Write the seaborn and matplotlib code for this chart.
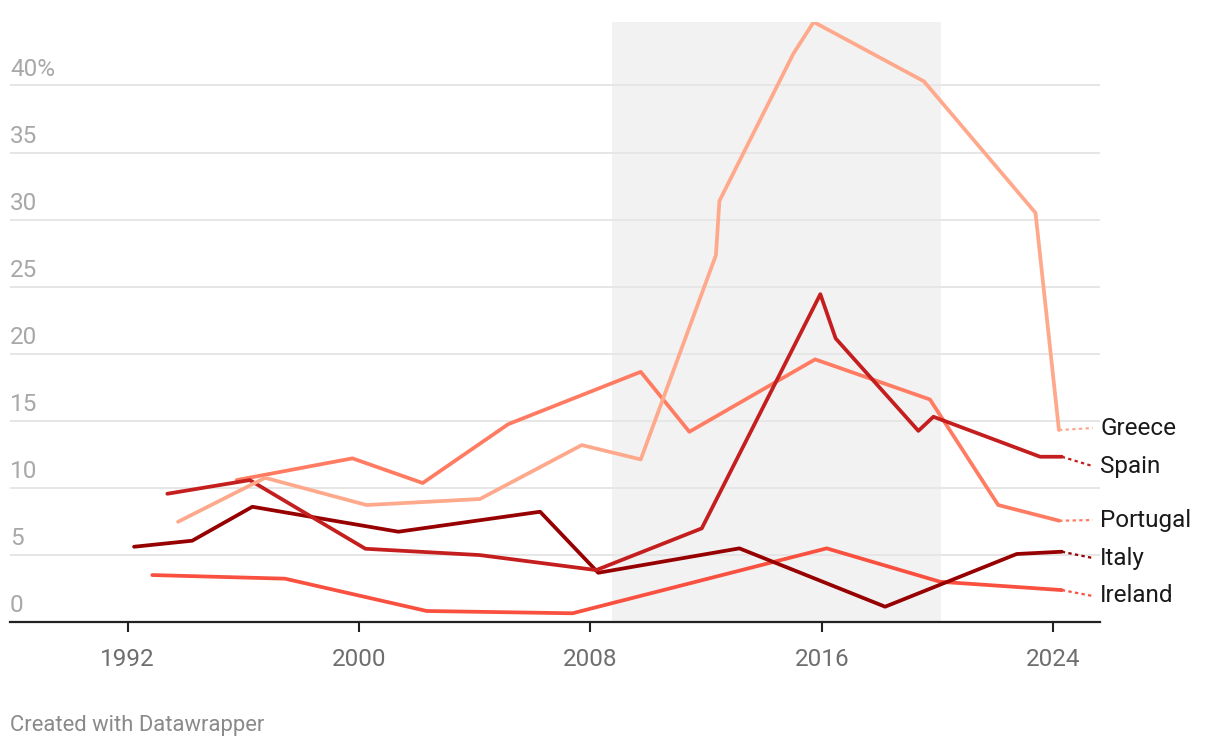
import matplotlib
matplotlib.use("Agg")
import matplotlib.pyplot as plt
import matplotlib.transforms as mtransforms
import numpy as np
import pandas as pd
import seaborn as sns

# ---------------- data ----------------
countries = ["Greece", "Spain", "Portugal", "Italy", "Ireland"]

greece_years = [1993.74, 1996.75, 2000.26, 2004.18, 2007.70, 2009.74, 2012.34, 2012.46,
                2015.02, 2015.72, 2019.53, 2023.39, 2023.47, 2024.20]
greece_vals = [7.47, 10.75, 8.72, 9.17, 13.19, 12.12, 27.35, 31.39,
               42.38, 44.73, 40.31, 30.50, 28.90, 14.31]

spain_years = [1993.37, 1996.22, 2000.22, 2004.17, 2008.20, 2011.85, 2015.95, 2016.48,
               2019.34, 2019.86, 2023.55, 2024.30]
spain_vals = [9.56, 10.58, 5.46, 4.99, 3.87, 6.98, 24.44, 21.14,
              14.25, 15.30, 12.32, 12.32]

portugal_years = [1995.77, 1999.77, 2002.20, 2005.16, 2009.74, 2011.42, 2015.77,
                  2019.74, 2022.10, 2024.21]
portugal_vals = [10.58, 12.20, 10.36, 14.75, 18.65, 14.18, 19.58, 16.59, 8.72, 7.55]

italy_years = [1992.22, 1994.23, 1996.31, 2001.36, 2006.26, 2008.27, 2013.15,
               2018.19, 2022.74, 2024.30]
italy_vals = [5.61, 6.06, 8.59, 6.73, 8.22, 3.67, 5.49, 1.14, 5.07, 5.24]

ireland_years = [1992.85, 1997.44, 2002.34, 2007.38, 2016.17, 2020.09, 2024.30]
ireland_vals = [3.50, 3.23, 0.82, 0.65, 5.49, 3.00, 2.38]

# label positions (value level of each end label)
label_levels = [14.46, 11.62, 7.60, 4.77, 1.94]

x_ticks = [1992, 2000, 2008, 2016, 2024]
y_ticks = [0, 5, 10, 15, 20, 25, 30, 35, 40]
y_tick_labels = ["0", "5", "10", "15", "20", "25", "30", "35", "40%"]

shade_start, shade_end = 2008.75, 2020.13

colors = {
    "Greece": "#ffa98c",
    "Spain": "#c41e1e",
    "Portugal": "#ff7c62",
    "Italy": "#960000",
    "Ireland": "#fa5040",
}

series = {
    "Greece": (greece_years, greece_vals),
    "Spain": (spain_years, spain_vals),
    "Portugal": (portugal_years, portugal_vals),
    "Italy": (italy_years, italy_vals),
    "Ireland": (ireland_years, ireland_vals),
}

frames = []
for c in countries:
    yrs, vals = series[c]
    frames.append(pd.DataFrame({"year": yrs, "value": vals, "country": c}))
df = pd.concat(frames, ignore_index=True)

# ---------------- style ----------------
sns.set_theme(style="white")
plt.rcParams["font.family"] = ["Roboto", "DejaVu Sans"]

W, H, DPI = 1220, 748, 100
fig = plt.figure(figsize=(W / DPI, H / DPI), dpi=DPI)
ax = fig.add_axes([10 / W, 1 - 622 / H, 1090 / W, 600 / H])

ax.axvspan(shade_start, shade_end, color="#f2f2f2", zorder=0.1, lw=0)

sns.lineplot(data=df, x="year", y="value", hue="country", palette=colors,
             hue_order=countries[::-1], sort=False, estimator=None,
             linewidth=2.7, legend=False, ax=ax, zorder=3)

ax.set_xlim(1987.93, 2025.62)
ax.set_ylim(0, 44.73)

# grid
ax.set_yticks(y_ticks[1:])
ax.yaxis.grid(True, color="#e6e6e6", linewidth=1.4)
ax.set_axisbelow(True)
ax.tick_params(axis="y", left=False, labelleft=False)

# y labels drawn inside the plot above the gridlines
offset = mtransforms.ScaledTranslation(0, 9.5 / DPI, fig.dpi_scale_trans)
ytrans = ax.get_yaxis_transform() + offset
for v, lab in zip(y_ticks, y_tick_labels):
    ax.text(0, v, lab, transform=ytrans, ha="left", va="baseline",
            fontsize=17.5, color="#a8a8a8")

# x axis
ax.set_xticks(x_ticks)
ax.set_xticklabels([str(t) for t in x_ticks])
ax.tick_params(axis="x", bottom=True, length=7.5, width=1.5, color="#222222",
               pad=11, labelsize=17.5, labelcolor="#6e6e6e")
for s in ["top", "right", "left"]:
    ax.spines[s].set_visible(False)
ax.spines["bottom"].set_color("#222222")
ax.spines["bottom"].set_linewidth(1.6)
ax.set_xlabel("")
ax.set_ylabel("")

# end labels with dotted connectors
for c, lvl in zip(countries, label_levels):
    yrs, vals = series[c]
    ax.plot([yrs[-1], 2025.37], [vals[-1], lvl], linestyle=(0, (1.5, 1.5)),
            color=colors[c], linewidth=1.6, clip_on=False, zorder=3)
    ax.text(2025.63, lvl, c, ha="left", va="center", fontsize=17.5,
            color="#1a1a1a", clip_on=False)

fig.text(10 / W, 1 - 725 / H, "Created with Datawrapper", ha="left", va="center",
         fontsize=15.8, color="#8a8a8a")

fig.savefig("out.png", dpi=DPI)
